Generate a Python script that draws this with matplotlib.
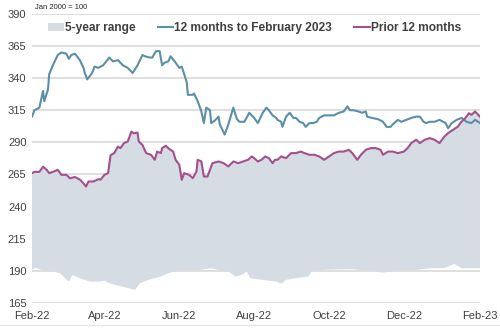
import matplotlib
matplotlib.use('Agg')
import matplotlib.pyplot as plt
import matplotlib.dates as mdates
from matplotlib.lines import Line2D
import numpy as np
import pandas as pd

plt.rcParams['font.family'] = ['Liberation Sans', 'DejaVu Sans']

# 12 months to February 2023 (index, Jan 2000 = 100)
cur_dates = ['2022-02-01', '2022-02-03', '2022-02-07', '2022-02-10', '2022-02-11', '2022-02-14',
             '2022-02-15', '2022-02-18', '2022-02-22', '2022-02-25', '2022-03-01', '2022-03-03',
             '2022-03-05', '2022-03-08', '2022-03-12', '2022-03-15', '2022-03-16', '2022-03-18',
             '2022-03-22', '2022-03-24', '2022-03-27', '2022-03-31', '2022-04-05', '2022-04-08',
             '2022-04-12', '2022-04-16', '2022-04-20', '2022-04-24', '2022-04-28', '2022-05-02',
             '2022-05-04', '2022-05-08', '2022-05-10', '2022-05-13', '2022-05-16', '2022-05-18',
             '2022-05-20', '2022-05-23', '2022-05-25', '2022-05-29', '2022-06-01', '2022-06-03',
             '2022-06-04', '2022-06-07', '2022-06-08', '2022-06-12', '2022-06-13', '2022-06-16',
             '2022-06-19', '2022-06-21', '2022-06-23', '2022-06-26', '2022-06-27', '2022-06-30',
             '2022-07-03', '2022-07-04', '2022-07-08', '2022-07-11', '2022-07-15', '2022-07-18',
             '2022-07-20', '2022-07-24', '2022-07-28', '2022-08-01', '2022-08-04', '2022-08-08',
             '2022-08-11', '2022-08-13', '2022-08-16', '2022-08-19', '2022-08-20', '2022-08-23',
             '2022-08-24', '2022-08-27', '2022-08-30', '2022-09-02', '2022-09-04', '2022-09-07',
             '2022-09-10', '2022-09-12', '2022-09-15', '2022-09-18', '2022-09-21', '2022-09-23',
             '2022-09-27', '2022-10-01', '2022-10-05', '2022-10-09', '2022-10-13', '2022-10-16',
             '2022-10-18', '2022-10-21', '2022-10-25', '2022-10-28', '2022-10-31', '2022-11-01',
             '2022-11-05', '2022-11-10', '2022-11-14', '2022-11-17', '2022-11-20', '2022-11-22',
             '2022-11-26', '2022-11-29', '2022-12-03', '2022-12-07', '2022-12-11', '2022-12-14',
             '2022-12-17', '2022-12-19', '2022-12-22', '2022-12-26', '2022-12-30', '2023-01-04',
             '2023-01-06', '2023-01-09', '2023-01-13', '2023-01-17', '2023-01-21', '2023-01-25',
             '2023-01-28', '2023-02-01']
cur_vals = [310, 315, 317, 330, 322, 331, 343, 350, 358, 360, 359, 355,
            358, 359, 354, 348, 344, 339, 344, 349, 348, 350, 356, 353,
            354, 350, 348, 344, 350, 358, 357, 356, 356, 361, 361, 350,
            352, 353, 357, 352, 348, 349, 346, 337, 327, 327, 328, 322,
            314, 305, 317, 315, 305, 307, 310, 304, 296, 304, 317, 308,
            306, 306, 313, 309, 305, 313, 317, 315, 311, 309, 307.5, 306,
            302, 310, 313, 309, 309, 306, 305, 302, 305, 305, 306, 309,
            311, 311, 311, 313, 314, 318, 315, 315, 314, 313, 314, 310,
            309, 308, 306, 302, 302, 304, 307.5, 306, 307.5, 309, 310, 310,
            306, 305, 306, 306, 307.5, 305, 301, 305, 307.5, 309, 306, 305,
            307.5, 305]

# Prior 12 months
prior_dates = ['2022-02-01', '2022-02-03', '2022-02-07', '2022-02-10', '2022-02-13', '2022-02-15',
               '2022-02-18', '2022-02-22', '2022-02-25', '2022-03-01', '2022-03-04', '2022-03-08',
               '2022-03-12', '2022-03-15', '2022-03-17', '2022-03-19', '2022-03-23', '2022-03-27',
               '2022-03-29', '2022-04-01', '2022-04-04', '2022-04-06', '2022-04-09', '2022-04-12',
               '2022-04-14', '2022-04-17', '2022-04-20', '2022-04-23', '2022-04-25', '2022-04-28',
               '2022-04-29', '2022-05-02', '2022-05-05', '2022-05-09', '2022-05-12', '2022-05-14',
               '2022-05-17', '2022-05-18', '2022-05-21', '2022-05-24', '2022-05-27', '2022-05-29',
               '2022-06-01', '2022-06-03', '2022-06-05', '2022-06-09', '2022-06-12', '2022-06-15',
               '2022-06-16', '2022-06-19', '2022-06-21', '2022-06-24', '2022-06-28', '2022-07-03',
               '2022-07-07', '2022-07-11', '2022-07-15', '2022-07-19', '2022-07-23', '2022-07-27',
               '2022-07-30', '2022-08-01', '2022-08-04', '2022-08-07', '2022-08-10', '2022-08-13',
               '2022-08-16', '2022-08-18', '2022-08-20', '2022-08-23', '2022-08-27', '2022-08-31',
               '2022-09-04', '2022-09-08', '2022-09-11', '2022-09-15', '2022-09-19', '2022-09-23',
               '2022-09-27', '2022-10-01', '2022-10-05', '2022-10-09', '2022-10-13', '2022-10-17',
               '2022-10-20', '2022-10-24', '2022-10-27', '2022-10-31', '2022-11-04', '2022-11-08',
               '2022-11-12', '2022-11-14', '2022-11-18', '2022-11-22', '2022-11-26', '2022-12-01',
               '2022-12-04', '2022-12-07', '2022-12-11', '2022-12-14', '2022-12-18', '2022-12-22',
               '2022-12-26', '2022-12-30', '2023-01-03', '2023-01-06', '2023-01-10', '2023-01-14',
               '2023-01-17', '2023-01-20', '2023-01-23', '2023-01-25', '2023-01-28', '2023-02-01']
prior_vals = [266, 267, 267, 271, 268.6, 266, 267, 268.6, 264.7, 264.7, 262, 263,
              261, 258, 255.6, 259.5, 259.5, 261.3, 261, 264.7, 266, 280, 281.6, 286.7,
              285.5, 289.4, 290.6, 298.4, 297, 297.6, 290.6, 288, 281.6, 280.3, 276.4, 282.8,
              281.6, 285.5, 287.3, 284.7, 282.8, 276.4, 272.5, 260.8, 266, 264.7, 262.1, 267.3,
              276.4, 275.1, 263.4, 263.4, 273.8, 275.1, 273.8, 271.2, 275.1, 273.8, 275.1, 276.4,
              279, 277.7, 275.1, 276.4, 279, 277.7, 273.8, 276.4, 276.4, 279, 277.7, 281.6,
              281.6, 282.8, 281.6, 280.3, 280.3, 279, 276.4, 279, 281.6, 282.8, 282.8, 284.2,
              281.6, 276.4, 280.3, 284.2, 285.5, 285.5, 284.2, 280.3, 282.8, 282.8, 281.6, 282.8,
              285.5, 289.4, 292, 289.4, 292, 293.3, 292, 289.4, 294.5, 297.2, 299.7, 302.3,
              306.2, 308.8, 312.7, 311.4, 314, 310]

# 5-year range, lower bound (upper bound follows the prior 12 months)
low_dates = ['2022-02-01', '2022-02-04', '2022-02-07', '2022-02-18', '2022-02-24', '2022-03-01',
             '2022-03-03', '2022-03-06', '2022-03-12', '2022-03-20', '2022-03-28', '2022-04-01',
             '2022-04-05', '2022-04-10', '2022-04-15', '2022-04-21', '2022-04-26', '2022-04-30',
             '2022-05-07', '2022-05-12', '2022-05-17', '2022-05-23', '2022-05-28', '2022-06-03',
             '2022-06-11', '2022-06-19', '2022-06-26', '2022-07-05', '2022-07-11', '2022-07-17',
             '2022-07-22', '2022-07-26', '2022-07-29', '2022-08-08', '2022-08-19', '2022-08-23',
             '2022-08-27', '2022-09-04', '2022-09-14', '2022-09-17', '2022-09-26', '2022-10-18',
             '2022-11-01', '2022-11-14', '2022-11-28', '2022-12-12', '2022-12-23', '2023-01-03',
             '2023-01-11', '2023-01-17', '2023-02-01']
low_vals = [190.5, 192.5, 191, 189.4, 188, 183, 181.6, 186.8, 184.2, 181.6, 181.6, 182.3,
            180.3, 179, 177.7, 176.4, 175.1, 180.3, 182.9, 184.2, 185.5, 188.1, 189.4, 190.7,
            189.4, 190.7, 192, 190.2, 189.4, 185.5, 186.8, 189.4, 184.2, 182.9, 181.6, 179.8,
            182.9, 184.2, 185.5, 189.4, 190.7, 191.2, 190.2, 188.6, 190.2, 190.7, 192, 192,
            195.4, 192, 192]

y_ticks = [165, 190, 215, 240, 265, 290, 315, 340, 365, 390]
x_ticks = ['2022-02-01', '2022-04-01', '2022-06-01', '2022-08-01', '2022-10-01',
           '2022-12-01', '2023-02-01']

cur_x = mdates.date2num(pd.to_datetime(cur_dates))
prior_x = mdates.date2num(pd.to_datetime(prior_dates))
low_x = mdates.date2num(pd.to_datetime(low_dates))

fig = plt.figure(figsize=(5, 3.31), dpi=100)
ax = fig.add_axes([0.064, 0.085, 0.896, 0.873])

# shaded range: top edge along prior 12 months, bottom along the lower bound
band_x = np.concatenate([prior_x, low_x[::-1]])
band_y = np.concatenate([prior_vals, low_vals[::-1]])
ax.fill(band_x, band_y, color='#D6DCE4', lw=0, zorder=1, label='5-year range')

ax.plot(cur_x, cur_vals, color='#5B8FA8', lw=1.5, zorder=3, label='12 months to February 2023')
ax.plot(prior_x, prior_vals, color='#A5508C', lw=1.5, zorder=3, label='Prior 12 months')

ax.set_ylim(165, 390)
ax.set_yticks(y_ticks)
ax.set_xlim(mdates.date2num(pd.Timestamp('2022-02-01')), mdates.date2num(pd.Timestamp('2023-02-01')))
ax.set_xticks(mdates.date2num(pd.to_datetime(x_ticks)))
ax.xaxis.set_major_formatter(mdates.DateFormatter('%b-%y'))
ax.grid(axis='y', color='#D9D9D9', lw=1.2, zorder=0)
ax.set_axisbelow(True)
for s in ax.spines.values():
    s.set_visible(False)
ax.tick_params(length=0, labelsize=8, colors='#404040', pad=4)
ax.tick_params(axis='x', pad=6)

leg = ax.legend(loc='upper left', bbox_to_anchor=(0.012, 1.008), ncol=3, frameon=False,
                handlelength=1.3, handletextpad=0.1, columnspacing=1.85,
                prop={'weight': 'bold', 'size': 8.6})
for t in leg.get_texts():
    t.set_color('#404040')

fig.text(0.07, 0.978, 'Jan 2000 = 100', fontsize=5.5, color='#262626', va='center')
fig.add_artist(Line2D([0, 1], [0.018, 0.018], color='#E6E6E6', lw=1, transform=fig.transFigure))

fig.savefig('out.png', dpi=100)
